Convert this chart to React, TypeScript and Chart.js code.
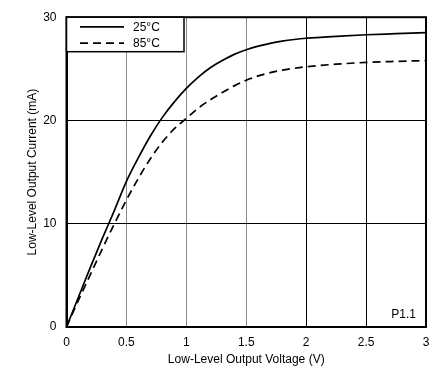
import React, { useEffect, useRef } from "react";
import { Chart, registerables } from "chart.js";

Chart.register(...registerables);

const voltage = [0, 0.1, 0.2, 0.3, 0.4, 0.5, 0.6, 0.7, 0.8, 0.9, 1.0, 1.1, 1.2, 1.3, 1.4, 1.5, 1.6, 1.7, 1.8, 1.9, 2.0, 2.25, 2.5, 2.75, 3.0];
const current25 = [0, 2.9, 5.8, 8.6, 11.3, 14.1, 16.4, 18.5, 20.3, 21.8, 23.1, 24.2, 25.1, 25.8, 26.4, 26.85, 27.2, 27.47, 27.68, 27.84, 27.96, 28.15, 28.3, 28.4, 28.5];
const current85 = [0, 2.6, 5.1, 7.6, 10.0, 12.3, 14.4, 16.3, 17.9, 19.2, 20.2, 21.2, 22.0, 22.7, 23.35, 23.9, 24.32, 24.63, 24.87, 25.05, 25.2, 25.45, 25.62, 25.72, 25.8];
const seriesLabels = ["25°C", "85°C"];
const xTicks = [0, 0.5, 1, 1.5, 2, 2.5, 3];
const yTicks = [0, 10, 20, 30];
const cornerLabel = "P1.1";

const FONT = "'Liberation Sans', Arial, sans-serif";

export default function App() {
  const ref = useRef<HTMLCanvasElement | null>(null);

  useEffect(() => {
    document.body.style.margin = "0";
    const canvas = ref.current;
    if (!canvas) return;

    const framePlugin = {
      id: "frame",
      afterDatasetsDraw(chart: any) {
        const { ctx, chartArea } = chart;
        const { left, top, right, bottom } = chartArea;
        ctx.save();
        ctx.strokeStyle = "#000";
        ctx.lineWidth = 2;
        ctx.strokeRect(left, top, right - left, bottom - top);
        ctx.fillStyle = "#000";
        ctx.font = `12px ${FONT}`;
        ctx.textAlign = "right";
        ctx.textBaseline = "alphabetic";
        ctx.fillText(cornerLabel, right - 10, bottom - 9);
        const lx = left, ly = top, lw = 117.5, lh = 34.5;
        ctx.fillStyle = "#fff";
        ctx.fillRect(lx, ly, lw, lh);
        ctx.lineWidth = 1.5;
        ctx.strokeStyle = "#000";
        ctx.strokeRect(lx, ly, lw, lh);
        const rows = [ly + 9.7, ly + 26];
        chart.data.datasets.forEach((ds: any, i: number) => {
          ctx.beginPath();
          ctx.setLineDash(ds.borderDash || []);
          ctx.lineWidth = ds.borderWidth;
          ctx.strokeStyle = ds.borderColor;
          ctx.moveTo(lx + 13.5, rows[i]);
          ctx.lineTo(lx + 57.5, rows[i]);
          ctx.stroke();
          ctx.setLineDash([]);
          ctx.fillStyle = "#000";
          ctx.font = `12px ${FONT}`;
          ctx.textAlign = "left";
          ctx.textBaseline = "middle";
          ctx.fillText(ds.label, lx + 66.5, rows[i] + 0.5);
        });
        ctx.restore();
      },
    };

    const chart = new Chart(canvas, {
      type: "line",
      data: {
        datasets: [
          {
            label: seriesLabels[0],
            data: voltage.map((v, i) => ({ x: v, y: current25[i] })),
            borderColor: "#000",
            borderWidth: 1.7,
            pointRadius: 0,
            cubicInterpolationMode: "monotone",
            fill: false,
          },
          {
            label: seriesLabels[1],
            data: voltage.map((v, i) => ({ x: v, y: current85[i] })),
            borderColor: "#000",
            borderWidth: 1.7,
            borderDash: [8, 5],
            pointRadius: 0,
            cubicInterpolationMode: "monotone",
            fill: false,
          },
        ],
      },
      options: {
        animation: false,
        responsive: false,
        layout: { padding: { top: 9, right: 15, left: 0, bottom: 0 } },
        plugins: { legend: { display: false }, tooltip: { enabled: false } },
        scales: {
          x: {
            type: "linear",
            min: 0,
            max: 3,
            afterFit: (s: any) => { s.height = 58; },
            afterBuildTicks: (s: any) => { s.ticks = xTicks.map((v) => ({ value: v })); },
            grid: {
              drawTicks: false,
              lineWidth: 1,
              color: (c: any) => {
                const v = c.tick ? c.tick.value : 0;
                return v > 0 && v < 2 ? "#8a8a8a" : "#000";
              },
            },
            border: { color: "#000", width: 2 },
            ticks: {
              color: "#000",
              font: { family: FONT, size: 12 },
              padding: 8,
              callback: (v: any) => String(v),
            },
            title: {
              display: true,
              text: "Low-Level Output Voltage (V)",
              color: "#000",
              font: { family: FONT, size: 12 },
              padding: { top: 3, bottom: 18 },
            },
          },
          y: {
            type: "linear",
            min: 0,
            max: 30,
            afterFit: (s: any) => { s.width = 66.5; },
            afterBuildTicks: (s: any) => { s.ticks = yTicks.map((v) => ({ value: v })); },
            grid: { drawTicks: false, lineWidth: 1, color: "#000" },
            border: { color: "#000", width: 2 },
            ticks: {
              color: "#000",
              font: { family: FONT, size: 12 },
              padding: 10,
              callback: (v: any) => String(v),
            },
            title: {
              display: true,
              text: "Low-Level Output Current (mA)",
              color: "#000",
              font: { family: FONT, size: 12 },
              padding: { top: 25, bottom: 0 },
            },
          },
        },
      },
      plugins: [framePlugin],
    } as any);

    return () => chart.destroy();
  }, []);

  return <canvas ref={ref} width={441} height={385} style={{ display: "block" }} />;
}
